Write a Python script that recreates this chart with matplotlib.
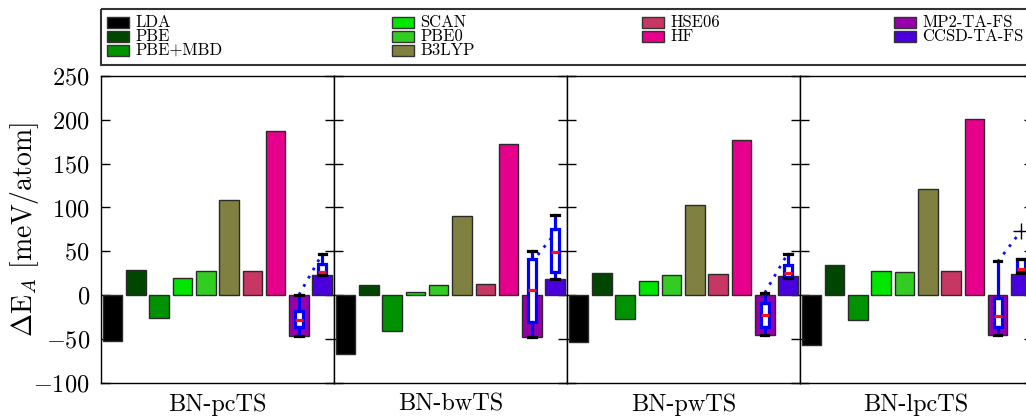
import matplotlib
matplotlib.use("Agg")
import matplotlib.pyplot as plt
from matplotlib.patches import Rectangle

plt.rcParams['font.family'] = ['cmr10', 'DejaVu Serif']
plt.rcParams['mathtext.fontset'] = 'cm'
plt.rcParams['axes.unicode_minus'] = False

# ---------------- data ----------------
methods = ['LDA', 'PBE', 'PBE+MBD', 'SCAN', 'PBE0', 'B3LYP', 'HSE06', 'HF',
           'MP2-TA-FS', 'CCSD-TA-FS']
colors = ['#000000', '#004600', '#009200', '#00e600', '#33cc22', '#808040',
          '#c83764', '#e6008c', '#9600aa', '#4a00dc']
panels = ['BN-pcTS', 'BN-bwTS', 'BN-pwTS', 'BN-lpcTS']

vals_pcTS = [-52, 29, -26, 19, 27, 108, 28, 187, -47, 23]
vals_bwTS = [-67, 11, -41, 4, 12, 90, 13, 172, -48, 18]
vals_pwTS = [-54, 25, -27, 16, 23, 103, 24, 177, -45, 22]
vals_lpcTS = [-57, 34, -29, 28, 26, 121, 28, 201, -46, 24]
values = [vals_pcTS, vals_bwTS, vals_pwTS, vals_lpcTS]

# box statistics (whislo, q1, med, q3, whishi) for MP2 and CCSD per panel
mp2_box = [(-47, -37, -29, -18, 0.5),
           (-48, -31, 6, 41, 50),
           (-46, -36, -23, -9, 2.6),
           (-45.5, -36, -23.5, -3, 38.5)]
ccsd_box = [(22.5, 23, 26, 35, 47),
            (18, 26, 49, 75, 91),
            (19, 21, 25, 34, 47),
            (25, 27.6, 29.2, 40.6, 40.6)]
ccsd_outliers = [[], [], [], [73]]
# dotted connecting line (start at MP2, end at CCSD)
line_start = [0.3, 37.5, 2.6, 38]
line_end = [47, 70.5, 48, 73]

yticks = [-100, -50, 0, 50, 100, 150, 200, 250]
ytick_labels = [r'$-100$', r'$-50$', r'$0$', r'$50$', r'$100$', r'$150$', r'$200$', r'$250$']

# ---------------- figure ----------------
W, H = 1026, 418
fig = plt.figure(figsize=(W / 100, H / 100), dpi=100)


def px_axes(l, t, w, h, **kw):
    return fig.add_axes([l / W, 1 - (t + h) / H, w / W, h / H], **kw)


panel_w = 232.9
ax_top, ax_h = 76, 306.7
xpos = [i + 0.5 for i in range(len(methods))]

for p, name in enumerate(panels):
    ax = px_axes(101 + p * panel_w, ax_top, panel_w, ax_h)
    ax.set_xlim(0, 10)
    ax.set_ylim(-100, 250)
    ax.bar(xpos, values[p], width=0.84, color=colors, edgecolor='#2a2a2a',
           linewidth=1.0, zorder=2)
    ax.plot([xpos[8], xpos[9]], [line_start[p], line_end[p]], color='#0a0aff',
            ls=(0, (1, 2.4)), lw=2.0, zorder=2.5)
    stats = []
    for box, fl in ((mp2_box[p], []), (ccsd_box[p], ccsd_outliers[p])):
        lo, q1, med, q3, hi = box
        stats.append(dict(whislo=lo, q1=q1, med=med, q3=q3, whishi=hi, fliers=fl))
    ax.bxp(stats, positions=[xpos[8], xpos[9]], widths=0.34, capwidths=0.32,
           patch_artist=True, showfliers=True, manage_ticks=False, zorder=3,
           boxprops=dict(facecolor='white', edgecolor='#0000ff', linewidth=2.3),
           whiskerprops=dict(color='#0000ff', linewidth=2.3),
           capprops=dict(color='black', linewidth=2.3),
           medianprops=dict(color='#ff1010', linewidth=2.3),
           flierprops=dict(marker='+', markersize=11, markeredgecolor='black',
                           markeredgewidth=1.0))
    ax.set_xticks([])
    ax.set_yticks(yticks)
    ax.set_yticklabels(ytick_labels, fontsize=17.5)
    ax.tick_params(axis='y', direction='in', left=True, right=True, length=6.5,
                   width=1.0, labelleft=(p == 0), pad=8)
    for s in ax.spines.values():
        s.set_linewidth(1.0)
    ax.text(0.5, -22 / ax_h, name, transform=ax.transAxes, ha='center',
            va='center', fontsize=17.5)

fig.text(25 / W, 1 - 230 / H, r'$\Delta$E$_A$ [meV/atom]', rotation=90,
         ha='center', va='center', fontsize=20)

# ---------------- legend (manual) ----------------
lg = fig.add_axes([0, 0, 1, 1], zorder=10)
lg.set_xlim(0, W)
lg.set_ylim(H, 0)
lg.axis('off')
lg.patch.set_alpha(0)
lg.add_patch(Rectangle((101, 9), 960, 56, fill=False, edgecolor='#333333', lw=1.5))
col_x = [107, 392, 642, 894]
row_y = [22, 36, 50]
slots = [(0, 0), (0, 1), (0, 2), (1, 0), (1, 1), (1, 2), (2, 0), (2, 1), (3, 0), (3, 1)]
for m, c, (ci, ri) in zip(methods, colors, slots):
    x, y = col_x[ci], row_y[ri]
    lg.add_patch(Rectangle((x, y - 5.5), 22, 11, facecolor=c, edgecolor='#333333', lw=1.0))
    lg.text(x + 28, y, m, ha='left', va='center', fontsize=12)

fig.savefig('out.png', dpi=100)
